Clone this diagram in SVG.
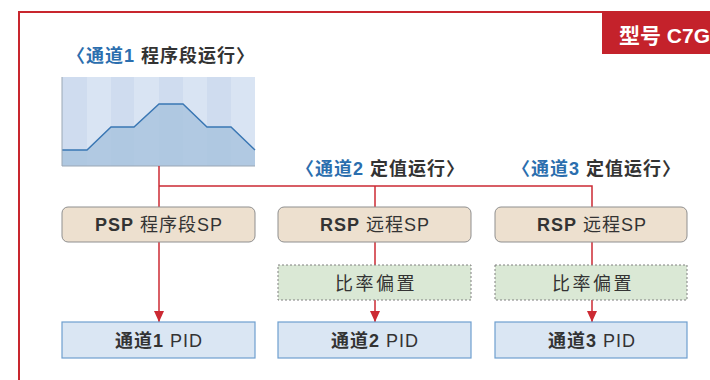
<svg xmlns="http://www.w3.org/2000/svg" width="710" height="380" viewBox="0 0 710 380">
<style>
text{font-family:"Liberation Sans","Noto Sans CJK SC",sans-serif;fill:#333;}
.t{font-size:18px;font-weight:bold;letter-spacing:1px;}
.blue{fill:#2b6eae;}
.sp{fill:#ede0cf;stroke:#8f8f8f;stroke-width:1;}
.rb{fill:#dae8d5;stroke:#808080;stroke-width:1;stroke-dasharray:2,2;}
.pid{fill:#dae6f3;stroke:#6e9fcf;stroke-width:1.2;}
.lbl{font-size:18px;text-anchor:middle;letter-spacing:1px;}
.bias{font-size:18px;text-anchor:middle;letter-spacing:2.5px;}
.b{font-weight:bold;}
.wire{stroke:#cc2a33;stroke-width:1.5;fill:none;}
</style>
<defs>
<marker id="ah" markerWidth="12" markerHeight="10" refX="11" refY="5" orient="auto" markerUnits="userSpaceOnUse">
<path d="M0,0 L11,5 L0,10 Z" fill="#cc2a33"/>
</marker>
</defs>
<rect width="710" height="380" fill="#fff"/>
<g id="frame">
<path d="M19,380 V12 H604" fill="none" stroke="#c8262e" stroke-width="2"/>
<rect x="602" y="11" width="108" height="43" fill="#c4222b"/>
<text x="619" y="43" style="font-size:21px;font-weight:bold;fill:#fff">型号 C7G</text>
</g>
<g id="title1">
<text x="67" y="62" class="t"><tspan class="blue">〈通道1</tspan>  程序段运行〉</text>
</g>
<g id="chart">
<rect x="62" y="77" width="193" height="89" fill="#d9e4f3"/>
<rect x="62" y="77" width="25" height="89" fill="#cfdcef"/>
<rect x="111" y="77" width="23" height="89" fill="#cfdcef"/>
<rect x="159" y="77" width="24" height="89" fill="#cfdcef"/>
<rect x="207" y="77" width="24" height="89" fill="#cfdcef"/>
<path d="M62,150 L87,150 L111,127 L134,127 L159,104 L183,104 L207,127 L231,127 L255,150 L255,166 L62,166 Z" fill="#a9c4de" opacity="0.85"/>
<path d="M62,150 L87,150 L111,127 L134,127 L159,104 L183,104 L207,127 L231,127 L255,150" fill="none" stroke="#3a77b4" stroke-width="1.5"/>
<path d="M62,77 V166 H255" fill="none" stroke="#9aa7b5" stroke-width="1"/>
</g>
<g id="title2">
<text x="296" y="175" class="t"><tspan class="blue">〈通道2</tspan> 定值运行〉</text>
</g>
<g id="title3">
<text x="512" y="175" class="t"><tspan class="blue">〈通道3</tspan> 定值运行〉</text>
</g>
<g id="connectors">
<path class="wire" d="M159,166 V207"/>
<path class="wire" d="M159,186 H592 V207"/>
<path class="wire" d="M375,186 V207"/>
<path class="wire" d="M159,242 V322" marker-end="url(#ah)"/>
<path class="wire" d="M375,242 V265"/>
<path class="wire" d="M592,242 V265"/>
<path class="wire" d="M375,300 V322" marker-end="url(#ah)"/>
<path class="wire" d="M592,300 V322" marker-end="url(#ah)"/>
</g>
<g id="psp">
<rect class="sp" x="62" y="207" width="193" height="35" rx="6"/>
<text class="lbl" x="159" y="231"><tspan class="b">PSP</tspan> 程序段SP</text>
</g>
<g id="rsp2">
<rect class="sp" x="278" y="207" width="193" height="35" rx="6"/>
<text class="lbl" x="375" y="231"><tspan class="b">RSP</tspan> 远程SP</text>
</g>
<g id="rsp3">
<rect class="sp" x="495" y="207" width="192" height="35" rx="6"/>
<text class="lbl" x="592" y="231"><tspan class="b">RSP</tspan> 远程SP</text>
</g>
<g id="bias2">
<rect class="rb" x="278" y="265" width="193" height="35"/>
<text class="bias" x="376" y="290">比率偏置</text>
</g>
<g id="bias3">
<rect class="rb" x="495" y="265" width="192" height="35"/>
<text class="bias" x="593" y="290">比率偏置</text>
</g>
<g id="pid1">
<rect class="pid" x="62" y="322" width="193" height="36"/>
<text class="lbl" x="159" y="347"><tspan class="b">通道1</tspan> PID</text>
</g>
<g id="pid2">
<rect class="pid" x="278" y="322" width="193" height="36"/>
<text class="lbl" x="375" y="347"><tspan class="b">通道2</tspan> PID</text>
</g>
<g id="pid3">
<rect class="pid" x="495" y="322" width="192" height="36"/>
<text class="lbl" x="592" y="347"><tspan class="b">通道3</tspan> PID</text>
</g>
</svg>
